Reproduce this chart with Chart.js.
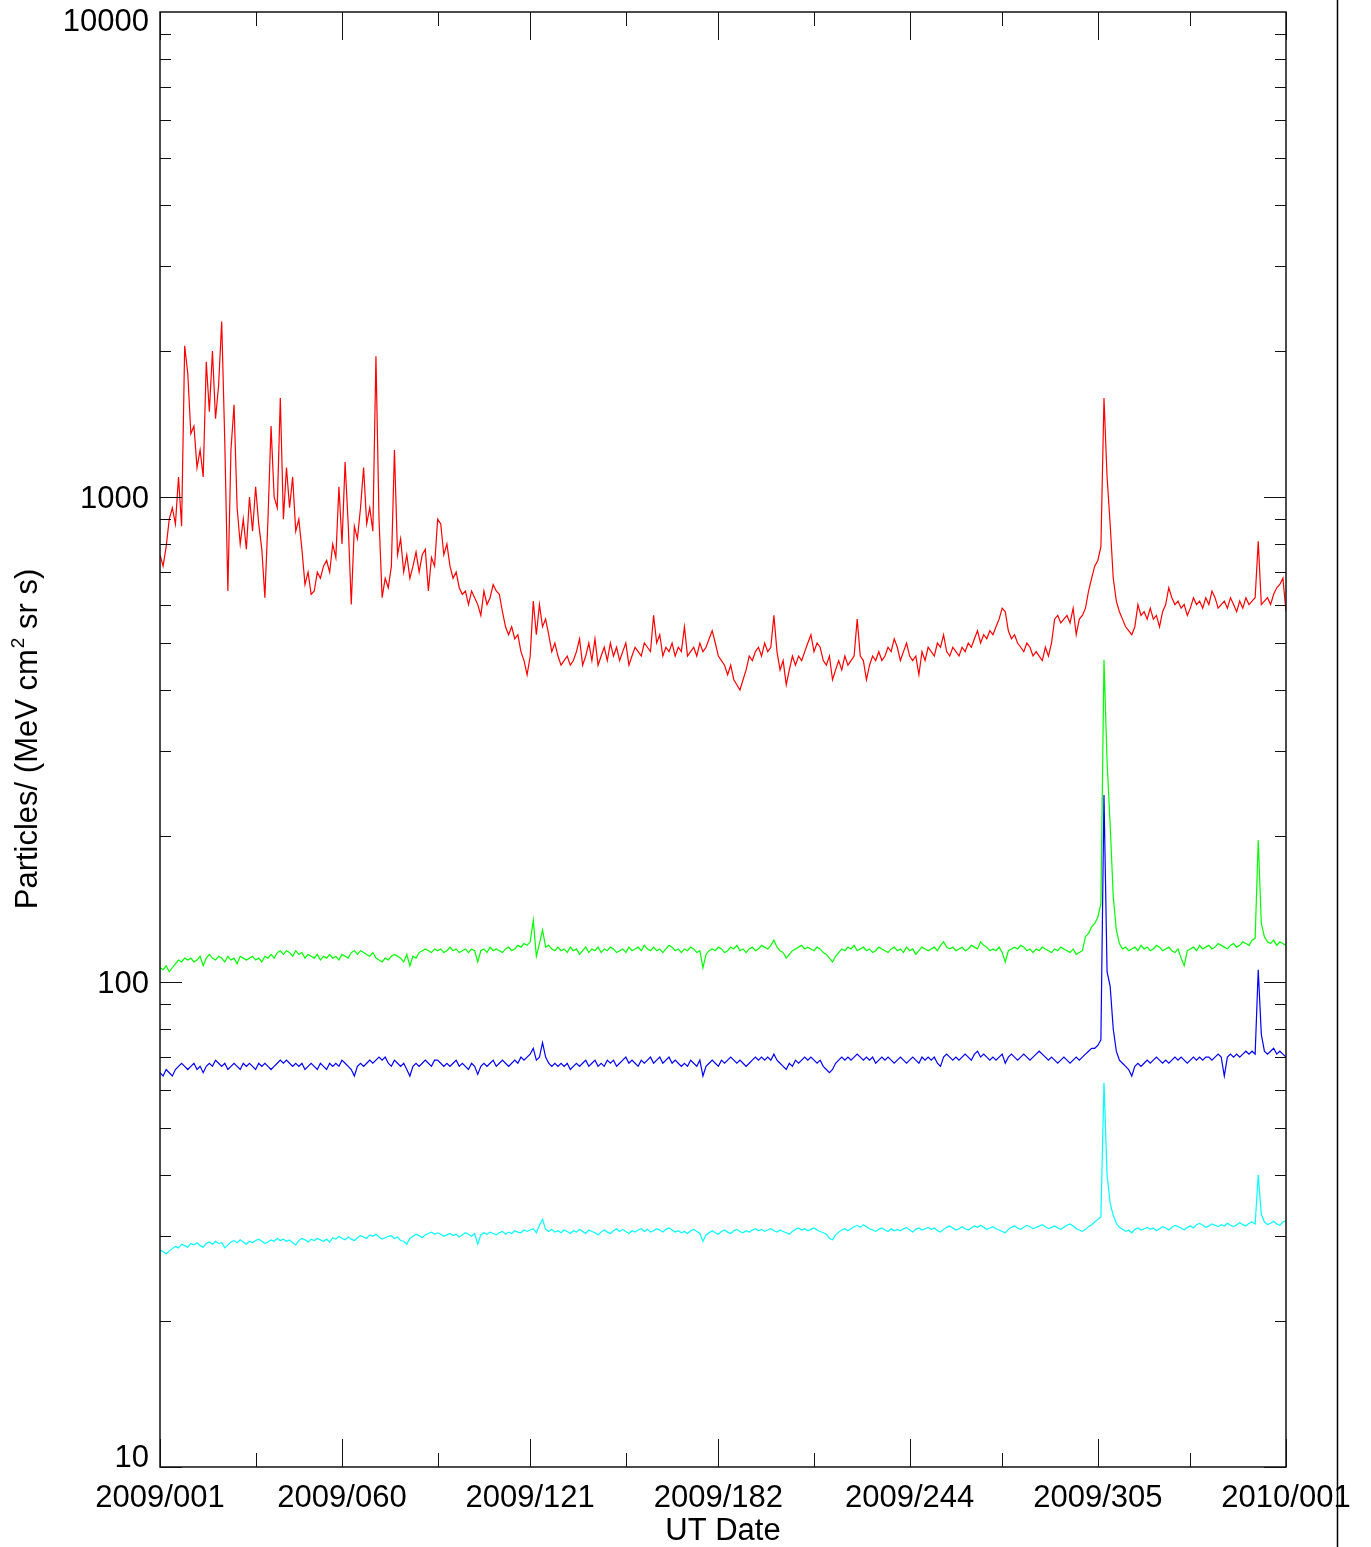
<!DOCTYPE html>
<html>
<head>
<meta charset="utf-8">
<script src="https://cdn.jsdelivr.net/npm/chart.js@4.4.1/dist/chart.umd.min.js"></script>
<style>
  html, body { margin: 0; padding: 0; background: #fff; }
  canvas { display: block; }
</style>
</head>
<body>
<canvas id="fluxChart" width="1371" height="1547"></canvas>
<script>
// day-of-year 2009 (0 = 2009/001), one value per day
const majorDays = [0, 59, 120, 181, 243, 304, 365];
const majorLabels = ['2009/001', '2009/060', '2009/121', '2009/182', '2009/244', '2009/305', '2010/001'];
const minorDays = [31, 90, 151, 212, 273, 334];
const yDecades = [10, 100, 1000, 10000];

const redFlux = [
  760,720,790,900,950,880,1100,870,2050,1800,
  1350,1400,1150,1250,1100,1900,1500,2000,1450,1700,
  2300,1300,640,1250,1550,950,800,900,780,1000,
  850,1050,880,780,620,900,1400,1000,950,1600,
  900,1150,950,1100,850,900,780,660,700,630,
  640,700,680,720,740,700,800,750,1050,800,
  1180,880,600,870,820,950,1150,880,950,850,
  1950,900,620,680,650,720,1250,760,820,700,
  760,680,720,770,700,760,780,640,750,720,
  900,880,760,800,720,680,700,650,630,640,
  600,640,620,600,570,640,600,620,660,640,
  630,580,540,520,540,510,520,480,460,430,
  470,610,520,600,540,560,520,480,500,470,
  450,460,470,450,460,480,510,450,470,500,
  460,510,450,470,490,460,500,470,490,460,
  480,500,450,470,490,480,470,500,490,480,
  570,500,520,470,490,480,500,470,490,480,
  540,470,480,490,470,500,480,490,510,530,
  500,470,460,450,430,450,420,410,400,420,
  440,470,460,480,490,470,500,480,490,570,
  480,440,460,410,440,470,450,470,460,480,
  500,520,480,500,490,460,450,470,420,440,
  460,440,470,450,460,470,560,470,460,420,
  450,470,460,480,460,470,490,480,510,490,
  460,480,500,470,460,470,430,480,460,490,
  480,470,500,490,520,480,470,490,480,470,
  490,480,500,490,510,530,500,520,510,530,
  520,540,560,590,580,530,510,520,500,490,
  480,500,490,470,480,470,460,490,470,500,
  560,570,550,560,570,550,590,520,560,570,
  590,640,680,720,740,790,1600,1100,880,680,
  610,580,560,540,530,520,540,600,570,580,
  560,590,560,570,540,580,600,650,620,600,
  610,590,600,570,590,620,600,610,590,620,
  600,640,620,590,600,610,590,620,600,580,
  610,590,620,600,610,620,810,600,610,620,
  600,630,650,660,680,580
];

const greenFlux = [
  107,106,108,105,107,109,111,110,112,111,
  112,110,111,113,108,112,114,112,111,113,
  112,110,113,111,112,109,113,112,111,112,
  113,111,112,110,113,112,114,112,115,116,
  114,116,115,113,116,114,115,112,114,113,
  112,114,111,113,112,114,112,113,111,114,
  113,112,115,116,114,116,115,114,113,115,
  112,111,110,112,111,113,114,113,112,110,
  114,108,113,112,115,116,117,116,115,117,
  116,117,115,116,118,116,117,115,116,117,
  115,117,116,110,116,117,115,118,116,117,
  116,115,117,118,116,117,119,118,120,119,
  121,134,113,120,128,118,119,117,116,118,
  116,117,115,118,116,117,114,116,118,115,
  117,116,118,115,117,116,118,117,115,116,
  117,115,118,116,117,118,116,119,117,116,
  118,116,117,115,117,119,118,116,117,115,
  117,116,118,117,115,116,107,114,116,117,
  116,118,117,115,116,118,117,119,116,117,
  115,117,118,116,117,119,118,117,119,122,
  118,116,115,112,114,116,117,118,119,117,
  118,117,116,118,117,115,114,112,110,113,
  115,117,116,118,117,119,116,117,118,116,
  117,115,116,118,117,116,115,117,118,116,
  117,115,118,116,117,114,116,118,117,116,
  117,118,116,119,121,118,117,118,116,117,
  118,116,117,119,118,117,121,119,118,116,
  117,116,118,115,110,116,117,118,117,119,
  118,116,117,115,117,116,118,117,116,115,
  117,116,118,117,116,115,117,114,115,116,
  124,126,130,132,136,145,461,285,211,150,
  128,120,117,118,116,117,118,116,119,117,
  118,116,117,119,118,116,117,118,116,115,
  117,112,108,116,117,118,116,119,117,118,
  119,117,118,120,119,118,117,119,120,118,
  119,121,120,119,122,123,196,132,124,121,
  120,122,119,121,120,119
];

const blueFlux = [
  65,64,66,65,64,66,67,68,67,66,
  67,68,66,67,65,67,68,67,69,68,
  67,68,66,67,68,67,66,68,67,68,
  67,66,68,67,68,67,66,67,68,69,
  68,69,68,67,68,67,68,66,67,68,
  67,66,68,67,66,68,67,68,67,69,
  68,67,66,64,67,68,67,68,69,68,
  69,70,69,70,68,67,69,68,67,68,
  66,64,67,68,67,68,69,68,67,69,
  69,68,67,68,67,68,69,67,68,67,
  66,68,67,64.5,67,68,67,68,69,67,
  68,69,68,67,68,69,68,70,69,70,
  71,73,69,70,75,70,68,67,68,67,
  68,67,68,66,67,68,67,68,69,67,
  68,69,67,68,67,69,68,69,67,68,
  69,70,68,69,68,67,69,68,69,70,
  68,69,70,68,69,70,68,69,68,67,
  68,67,69,68,67,69,64,67,68,69,
  68,67,69,68,69,70,69,68,69,68,
  67,68,69,70,69,70,69,70,69,71,
  69,68,67,66,68,67,69,68,69,70,
  69,70,69,68,69,67,66,65,66,68,
  69,70,69,70,69,70,71,70,69,70,
  69,70,68,69,70,69,70,69,68,69,
  70,69,68,69,70,69,68,70,69,70,
  69,70,68,67,70,71,70,69,70,69,
  70,71,70,69,71,72,70,71,70,69,
  70,69,70,71,68,70,71,70,69,70,
  71,70,69,70,71,72,71,70,69,70,
  69,68,69,70,69,68,69,70,69,70,
  71,72,73,73,74,76,243,105,98,80,
  72,69,68,67,66,64,67,68,67,68,
  69,68,69,70,69,68,69,68,69,70,
  69,70,69,68,69,70,69,70,69,70,
  70,69,70,71,70,64,70,71,70,71,
  70,71,72,71,72,71,106,78,72,71,
  72,73,71,72,71,70
];

const cyanFlux = [
  28,27.8,27.5,27.9,28.2,28.5,28.3,28.8,28.6,28.4,
  28.9,28.7,29,28.6,28.4,28.9,29.1,28.8,29.2,28.9,
  29,28.3,28.7,29.1,29.3,29,29.4,29.1,28.8,29.2,
  29,29.3,29.5,29.2,28.9,29.1,29.4,29.2,29.6,29.3,
  29.5,29.2,29.4,29,28.7,29.3,29.6,29.4,29.1,29.5,
  29.3,29.6,29.4,29.2,29.5,29.1,29.7,29.5,29.9,29.6,
  29.4,29.8,29.5,29.3,29.7,30,29.8,29.6,30.1,29.9,
  30.2,29.8,29.5,29.7,29.9,30,29.6,29.8,29.3,29.2,
  28.8,29.6,29.9,30.2,30,29.7,30.1,30.3,30.5,30.2,
  30.4,30.2,29.9,30.1,30.3,30,30.2,29.8,30.1,30.4,
  30.2,29.9,30.3,28.8,30.1,30.4,30.2,30.5,30.3,30.1,
  30.4,30.6,30.2,30.5,30.3,30.7,30.5,30.4,30.8,30.6,
  30.8,31,30.4,31.5,32.4,30.9,30.6,30.9,30.5,30.7,
  30.4,30.8,30.6,30.3,30.7,30.5,30.9,30.6,30.3,30.8,
  30.6,30.4,30.1,30.5,30.8,30.5,30.3,30.7,31,30.6,
  30.9,30.6,30.3,30.7,30.5,30.8,31,30.6,30.9,30.5,
  30.7,31,30.8,30.5,30.9,31.1,30.8,30.5,30.7,30.4,
  30.6,30.3,30.7,30.9,30.6,30.3,29.2,30.1,30.4,30.7,
  30.4,30.2,30.6,30.8,30.5,30.3,30.7,30.9,30.6,30.4,
  30.7,30.5,30.8,31,30.7,30.9,30.6,30.8,31,30.7,
  30.5,30.8,30.6,30.4,30.2,30.6,30.9,31.1,30.8,31,
  30.7,30.9,31.1,30.8,30.6,30.4,30.2,29.6,29.4,30.1,
  30.5,30.8,31,30.7,31,31.3,31.5,31.2,31.6,31.3,
  31,30.8,30.6,30.9,31.1,30.8,30.6,31,30.7,30.9,
  30.7,31,31.2,30.8,30.5,30.9,31.1,30.8,31,31.2,
  30.9,31.1,30.7,30.5,30.9,31.2,31.4,31.1,30.8,31,
  31.3,31,30.8,31.1,31.4,31.2,31.5,31.2,30.9,31.1,
  31.3,31,30.8,30.6,30.4,30.9,31.2,31.4,31.1,30.9,
  31.2,31.5,31.3,31,31.2,31.4,31.6,31.3,31,31.2,
  31.4,31.1,30.9,31.2,31.5,31.7,31.4,31,30.8,30.6,
  30.9,31.3,31.6,32,32.4,32.8,62,40,35,33,
  31.8,31.2,30.9,30.6,30.8,30.4,30.9,31.1,30.8,31,
  31.2,30.9,31.1,30.7,31,31.3,31.1,30.8,31.2,31.5,
  31.3,31.1,30.8,31.2,31.4,31.1,31.6,31.8,31.5,31.2,
  31.4,31.7,31.5,31.3,31.6,31.4,31.8,31.5,31.3,31.6,
  31.9,31.6,31.4,31.8,32,31.7,40,33.2,32,31.6,
  31.8,32.1,31.7,31.5,32,32.2
];

const toPoints = arr => arr.map((v, i) => ({ x: i, y: v }));

const FONT = '31px "Liberation Sans", Arial, sans-serif';
const SUP_FONT = '19px "Liberation Sans", Arial, sans-serif';

// IDL-style box with inward ticks, labels drawn from the chart's own scales
const idlAxes = {
    id: 'idlAxes',
    afterDraw(chart) {
        const ctx = chart.ctx;
        const xs = chart.scales.x;
        const ys = chart.scales.y;
        const a = chart.chartArea;
        ctx.save();
        ctx.strokeStyle = '#111';
        ctx.lineWidth = 1.5;
        ctx.strokeRect(a.left, a.top, a.right - a.left, a.bottom - a.top);

        ctx.lineWidth = 1;
        ctx.beginPath();
        // y ticks, left and right
        for (let dec = 10; dec < 10000; dec *= 10) {
            for (let m = 1; m <= 9; m++) {
                const py = Math.round(ys.getPixelForValue(dec * m)) + 0.5;
                const len = m === 1 ? 22 : 11;
                ctx.moveTo(a.left, py); ctx.lineTo(a.left + len, py);
                ctx.moveTo(a.right, py); ctx.lineTo(a.right - len, py);
            }
        }
        // x ticks, bottom and top
        majorDays.forEach(d => {
            const px = Math.round(xs.getPixelForValue(d)) + 0.5;
            ctx.moveTo(px, a.bottom); ctx.lineTo(px, a.bottom - 28);
            ctx.moveTo(px, a.top); ctx.lineTo(px, a.top + 28);
        });
        minorDays.forEach(d => {
            const px = Math.round(xs.getPixelForValue(d)) + 0.5;
            ctx.moveTo(px, a.bottom); ctx.lineTo(px, a.bottom - 14);
            ctx.moveTo(px, a.top); ctx.lineTo(px, a.top + 14);
        });
        ctx.stroke();

        ctx.fillStyle = '#000';
        ctx.font = FONT;
        ctx.textBaseline = 'alphabetic';

        // y labels
        ctx.textAlign = 'right';
        yDecades.forEach(v => {
            let base = ys.getPixelForValue(v) + 11;
            if (v === 10000) base = a.top + 19;
            if (v === 10) base = a.bottom;
            ctx.fillText(String(v), a.left - 11, base);
        });

        // x labels
        ctx.textAlign = 'center';
        majorDays.forEach((d, i) => {
            ctx.fillText(majorLabels[i], xs.getPixelForValue(d), a.bottom + 40);
        });
        ctx.fillText('UT Date', (a.left + a.right) / 2, a.bottom + 73);

        // y title with superscript
        const p1 = 'Particles/ (MeV cm', sup = '2', p2 = ' sr s)';
        ctx.save();
        ctx.translate(37, (a.top + a.bottom) / 2);
        ctx.rotate(-Math.PI / 2);
        ctx.textAlign = 'left';
        ctx.font = FONT;
        const w1 = ctx.measureText(p1).width;
        const w3 = ctx.measureText(p2).width;
        ctx.font = SUP_FONT;
        const w2 = ctx.measureText(sup).width;
        const x0 = -(w1 + w2 + w3) / 2;
        ctx.font = FONT;
        ctx.fillText(p1, x0, 0);
        ctx.font = SUP_FONT;
        ctx.fillText(sup, x0 + w1 + 1, -13);
        ctx.font = FONT;
        ctx.fillText(p2, x0 + w1 + w2 + 1, 0);
        ctx.restore();

        // stray border line at the right of the image
        ctx.strokeStyle = '#000';
        ctx.lineWidth = 1.5;
        ctx.beginPath();
        ctx.moveTo(1337.5, 0);
        ctx.lineTo(1337.5, chart.height);
        ctx.stroke();
        ctx.restore();
    }
};

const series = (data, color) => ({
    data: toPoints(data),
    borderColor: color,
    backgroundColor: color,
    borderWidth: 1.2,
    pointRadius: 0,
    tension: 0,
    fill: false
});

new Chart(document.getElementById('fluxChart').getContext('2d'), {
    type: 'line',
    data: {
        datasets: [
            series(redFlux, '#ff0000'),
            series(greenFlux, '#00ff00'),
            series(blueFlux, '#0000ff'),
            series(cyanFlux, '#00ffff')
        ]
    },
    options: {
        responsive: false,
        animation: false,
        devicePixelRatio: 1,
        layout: { padding: { left: 160, right: 85, top: 12, bottom: 80 } },
        plugins: {
            legend: { display: false },
            tooltip: { enabled: false }
        },
        scales: {
            x: { type: 'linear', min: 0, max: 365, display: false },
            y: { type: 'logarithmic', min: 10, max: 10000, display: false }
        }
    },
    plugins: [idlAxes]
});
</script>
</body>
</html>
